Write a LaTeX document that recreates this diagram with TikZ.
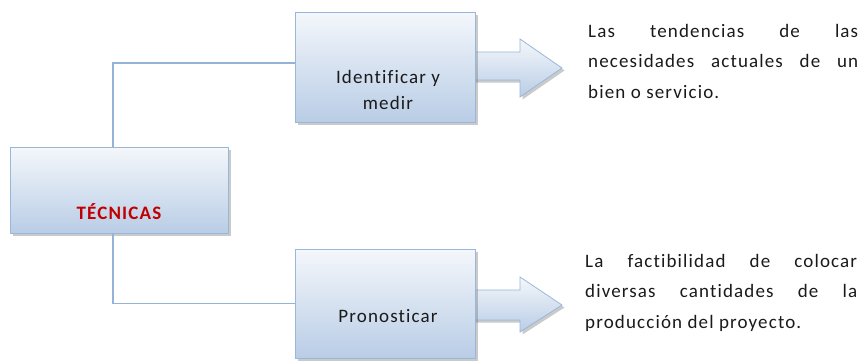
\documentclass[tikz,border=0pt]{standalone}
\usepackage{fontspec}
\setmainfont{Carlito}[LetterSpace=6, Ligatures={NoCommon}]
\usetikzlibrary{shadows}
\definecolor{boxtop}{HTML}{F4F7FB}
\definecolor{boxbot}{HTML}{B9CDE6}
\definecolor{boxline}{HTML}{9AB6D9}
\definecolor{conn}{HTML}{95B3D7}
\definecolor{tecred}{HTML}{C00000}
\definecolor{txt}{HTML}{1A1A1A}
\tikzset{
  sabox/.style={draw=boxline, line width=0.8pt, top color=boxtop, bottom color=boxbot,
    drop shadow={shadow xshift=2.5pt, shadow yshift=-2.5pt, opacity=0.35, fill=black!60},
    inner sep=0pt, minimum width=180pt, minimum height=110pt},
  saarrow/.style={draw=boxline, line width=0.8pt, top color=boxtop, bottom color=boxbot,
    drop shadow={shadow xshift=2.5pt, shadow yshift=-2.5pt, opacity=0.35, fill=black!60}},
  boxtext/.style={inner sep=0pt, align=center, text=txt, font=\fontsize{19}{26}\selectfont},
  desc/.style={inner sep=0pt, text width=270pt, align=justify, text=txt, font=\fontsize{19}{30.5}\selectfont},
  conline/.style={draw=conn, line width=1.5pt}
}
\begin{document}
\begin{tikzpicture}[x=1pt,y=-1pt]
\useasboundingbox (0,0) rectangle (866,360);
% arrows
\path[saarrow] (470,52) -- (520,52) -- (520,39) -- (562,68) -- (520,97) -- (520,80) -- (470,80) -- cycle;
\path[saarrow] (470,290) -- (520,290) -- (520,277) -- (562,305) -- (520,332) -- (520,320) -- (470,320) -- cycle;
% boxes
\node[sabox, minimum width=218pt, minimum height=86pt] (tec) at (119,190) {};
\node[sabox] (id) at (385,67) {};
\node[sabox, minimum height=109pt] (pr) at (385,303.5) {};
% connectors
\draw[conline] ([xshift=-6pt]tec.north) |- ([yshift=4pt]id.west);
\draw[conline] ([xshift=-6pt]tec.south) |- (pr.west);
% texts
\node[boxtext, text=tecred, font=\fontsize{19}{26}\selectfont\bfseries] (tect) at ([yshift=-22pt]tec.center) {TÉCNICAS};
\node[boxtext] (idt) at ([yshift=-23pt, xshift=3pt]id.center) {Identificar y\\medir};
\node[boxtext] (prt) at ([yshift=-13pt, xshift=3pt]pr.center) {Pronosticar};
\node[desc, anchor=base west] (d1) at (588,37) {Las tendencias de las\linebreak necesidades actuales de un\linebreak bien o servicio.};
\node[desc, anchor=base west, text width=272pt] (d2) at (585,267) {La factibilidad de colocar\linebreak diversas cantidades de la\linebreak producción del proyecto.};
\end{tikzpicture}
\end{document}
